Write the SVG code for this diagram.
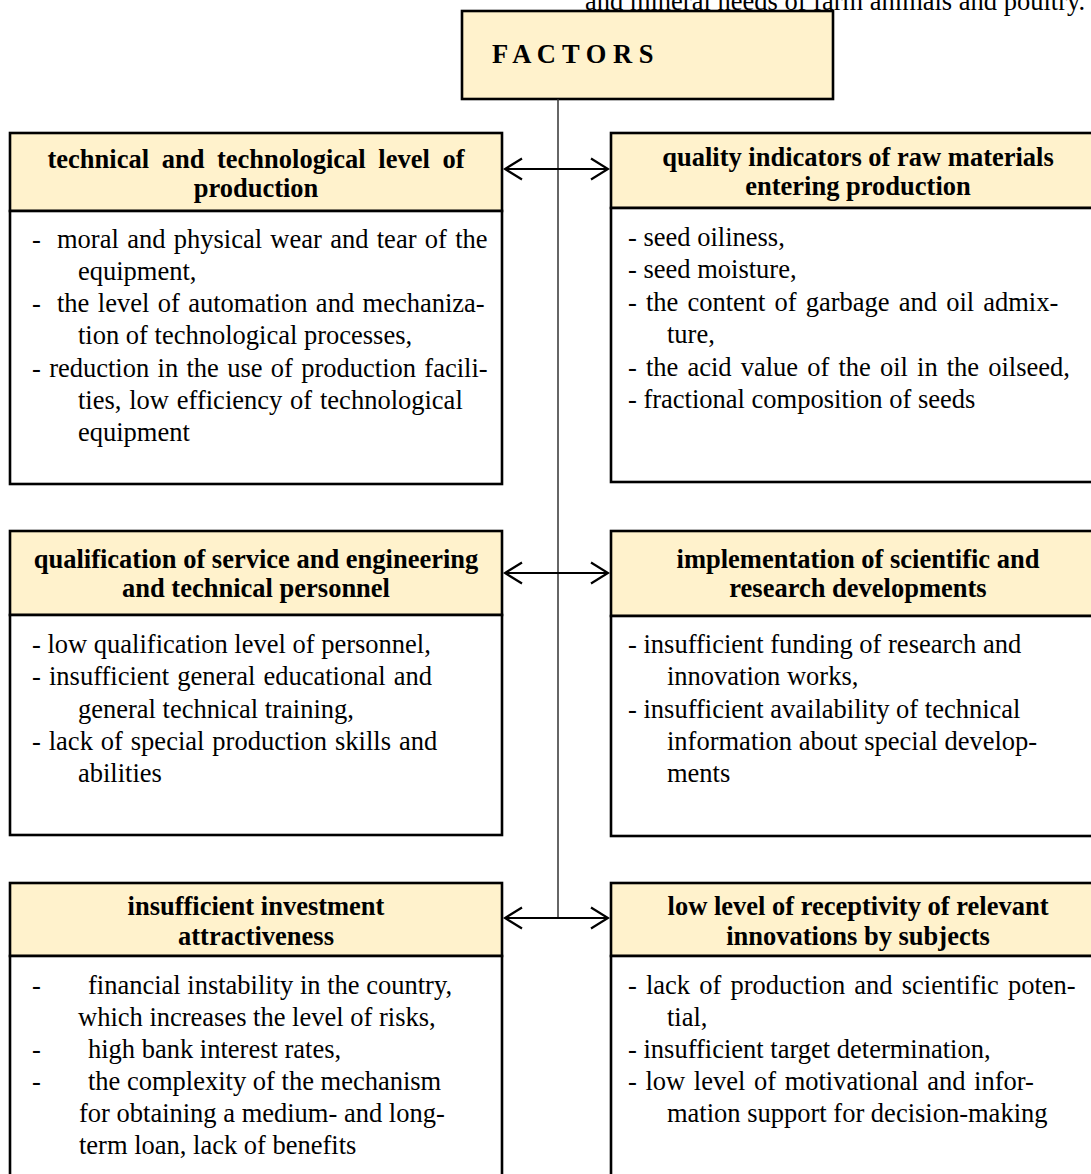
<svg xmlns="http://www.w3.org/2000/svg" width="1091" height="1174" viewBox="0 0 1091 1174">
<defs>
<style>
.hd{fill:#FFF2CC;stroke:#000;stroke-width:2.6}
.bd{fill:#FFFFFF;stroke:#000;stroke-width:2.6}
.h{font-family:"Liberation Serif","Times New Roman",serif;font-weight:bold;font-size:26.5px;fill:#000;text-anchor:middle}
.b{font-family:"Liberation Serif","Times New Roman",serif;font-size:26.5px;fill:#000}
.ar{stroke:#000;stroke-width:2.2;fill:none}
</style>
<marker id="ah" viewBox="-20 -12 22 24" refX="0" refY="0" markerWidth="22" markerHeight="24" markerUnits="userSpaceOnUse" orient="auto-start-reverse">
<path d="M-17,-10.5 L0,0 L-17,10.5" fill="none" stroke="#000" stroke-width="2.2"/>
</marker>
</defs>
<rect width="1091" height="1174" fill="#FFFFFF"/>
<text class="b" x="585" y="10">and mineral needs of farm animals and poultry.</text>

<g id="factors">
<rect class="hd" x="462" y="11" width="371" height="88"/>
<text class="h" x="492" y="63" style="text-anchor:start">F A C T O R S</text>
</g>

<g id="connectors">
<line x1="558" y1="99" x2="558" y2="918" stroke="#333" stroke-width="1.5"/>
<line class="ar" x1="505" y1="169" x2="608" y2="169" marker-start="url(#ah)" marker-end="url(#ah)"/>
<line class="ar" x1="505" y1="573" x2="608" y2="573" marker-start="url(#ah)" marker-end="url(#ah)"/>
<line class="ar" x1="505" y1="918" x2="608" y2="918" marker-start="url(#ah)" marker-end="url(#ah)"/>
</g>

<g id="tech">
<rect class="hd" x="10" y="133" width="492" height="78"/>
<text class="h" x="256" y="168" style="word-spacing:6px">technical and technological level of</text>
<text class="h" x="256" y="197">production</text>
<rect class="bd" x="10" y="211" width="492" height="273"/>
<text class="b" x="32" y="248">-</text><text class="b" x="57" y="248" style="word-spacing:1.7px">moral and physical wear and tear of the</text>
<text class="b" x="78" y="280">equipment,</text>
<text class="b" x="32" y="312">-</text><text class="b" x="57" y="312" style="word-spacing:1.8px">the level of automation and mechaniza-</text>
<text class="b" x="78" y="344">tion of technological processes,</text>
<text class="b" x="32" y="377" style="word-spacing:1.7px">- reduction in the use of production facili-</text>
<text class="b" x="78" y="409" style="word-spacing:1.2px">ties, low efficiency of technological</text>
<text class="b" x="78" y="441">equipment</text>
</g>

<g id="quality">
<rect class="hd" x="611" y="133" width="495" height="75"/>
<text class="h" x="858" y="166">quality indicators of raw materials</text>
<text class="h" x="858" y="195">entering production</text>
<rect class="bd" x="611" y="208" width="495" height="274"/>
<text class="b" x="628" y="246">- seed oiliness,</text>
<text class="b" x="628" y="278">- seed moisture,</text>
<text class="b" x="628" y="311" style="word-spacing:2.5px">- the content of garbage and oil admix-</text>
<text class="b" x="667" y="343">ture,</text>
<text class="b" x="628" y="376" style="word-spacing:2.5px">- the acid value of the oil in the oilseed,</text>
<text class="b" x="628" y="408">- fractional composition of seeds</text>
</g>

<g id="qualification">
<rect class="hd" x="10" y="531" width="492" height="84"/>
<text class="h" x="256" y="568">qualification of service and engineering</text>
<text class="h" x="256" y="597">and technical personnel</text>
<rect class="bd" x="10" y="615" width="492" height="220"/>
<text class="b" x="32" y="653">- low qualification level of personnel,</text>
<text class="b" x="32" y="685" style="word-spacing:1.5px">- insufficient general educational and</text>
<text class="b" x="78" y="718">general technical training,</text>
<text class="b" x="32" y="750" style="word-spacing:1.3px">- lack of special production skills and</text>
<text class="b" x="78" y="782">abilities</text>
</g>

<g id="implementation">
<rect class="hd" x="611" y="531" width="495" height="85"/>
<text class="h" x="858" y="568">implementation of scientific and</text>
<text class="h" x="858" y="597">research developments</text>
<rect class="bd" x="611" y="616" width="495" height="220"/>
<text class="b" x="628" y="653">- insufficient funding of research and</text>
<text class="b" x="667" y="685">innovation works,</text>
<text class="b" x="628" y="718">- insufficient availability of technical</text>
<text class="b" x="667" y="750">information about special develop-</text>
<text class="b" x="667" y="782">ments</text>
</g>

<g id="investment">
<rect class="hd" x="10" y="883" width="492" height="73"/>
<text class="h" x="256" y="915">insufficient investment</text>
<text class="h" x="256" y="945">attractiveness</text>
<rect class="bd" x="10" y="956" width="492" height="240"/>
<text class="b" x="32" y="994">-</text><text class="b" x="88" y="994">financial instability in the country,</text>
<text class="b" x="78" y="1026">which increases the level of risks,</text>
<text class="b" x="32" y="1058">-</text><text class="b" x="88" y="1058">high bank interest rates,</text>
<text class="b" x="32" y="1090">-</text><text class="b" x="88" y="1090">the complexity of the mechanism</text>
<text class="b" x="79" y="1122">for obtaining a medium- and long-</text>
<text class="b" x="79" y="1154">term loan, lack of benefits</text>
</g>

<g id="receptivity">
<rect class="hd" x="611" y="883" width="495" height="73"/>
<text class="h" x="858" y="915">low level of receptivity of relevant</text>
<text class="h" x="858" y="945">innovations by subjects</text>
<rect class="bd" x="611" y="956" width="495" height="240"/>
<text class="b" x="628" y="994" style="word-spacing:2.5px">- lack of production and scientific poten-</text>
<text class="b" x="667" y="1026">tial,</text>
<text class="b" x="628" y="1058">- insufficient target determination,</text>
<text class="b" x="628" y="1090" style="word-spacing:2px">- low level of motivational and infor-</text>
<text class="b" x="667" y="1122">mation support for decision-making</text>
</g>
</svg>
